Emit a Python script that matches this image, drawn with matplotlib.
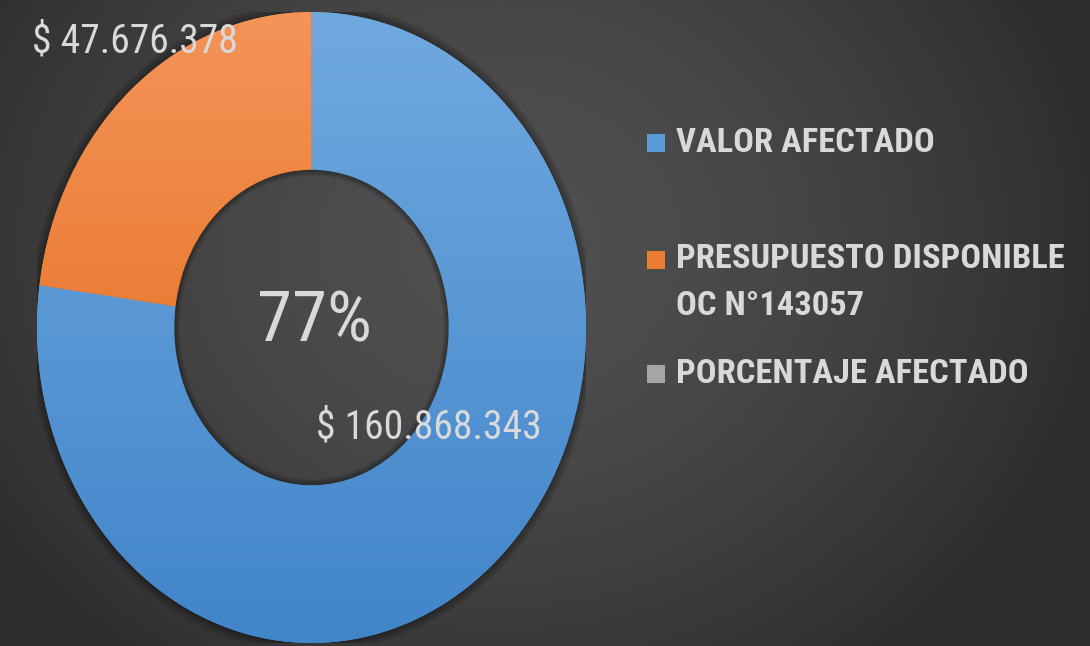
import numpy as np
import matplotlib
matplotlib.use('Agg')
import matplotlib.pyplot as plt
from matplotlib import font_manager
from matplotlib.patches import Wedge, Rectangle
from matplotlib.colors import LinearSegmentedColormap

# datos del grafico
categorias = ['VALOR AFECTADO', 'PRESUPUESTO DISPONIBLE\nOC N°143057', 'PORCENTAJE AFECTADO']
valores = [160868343, 47676378]
porcentaje = 77
colores = ['#5b9bd5', '#ed7d31', '#a5a5a5']
# gradiente (arriba, abajo) de cada porcion
gradientes = [('#70a9df', '#4185ca'), ('#f49459', '#e0640f')]

# fuente: la mas angosta disponible (Calibri no esta)
nombres = {f.name for f in font_manager.fontManager.ttflist}
fuente = 'Lato'
for cand in ['Roboto Condensed', 'Liberation Sans Narrow', 'Open Sans Condensed', 'Lato']:
    if cand in nombres:
        fuente = cand
        break
plt.rcParams['font.family'] = [fuente, 'DejaVu Sans']

fig = plt.figure(figsize=(10.9, 6.46), dpi=100)

# fondo gris oscuro con degradado radial
H, W = 646, 1090
yy, xx = np.mgrid[0:H, 0:W]
d = np.sqrt(((xx - 500) / 600.0) ** 2 + ((yy - 400) / 520.0) ** 2)
v = (80 - 34 * np.clip(d, 0, 1) ** 1.6) / 255.0
fondo = np.dstack([v, v, v])
fig.figimage(fondo[::-1], 0, 0, zorder=-10)

ax = fig.add_axes([37 / W, 3 / H, 549 / W, 631 / H])
ax.patch.set_visible(False)

# sombra exterior suave (solo anillo por fuera)
for k in range(6):
    r = 1.0 + 0.005 * (k + 1)
    ax.add_patch(Wedge((0, 0), r, 0, 360, width=r - 0.98, color='black', alpha=0.06, lw=0, zorder=0))

wedges, _ = ax.pie(valores, colors=colores[:2], startangle=90, counterclock=False,
                   radius=1, wedgeprops=dict(width=0.5, linewidth=0))
ax.set_aspect('auto')

grad = np.linspace(1, 0, 256).reshape(-1, 1)
for w, (top, bot) in zip(wedges, gradientes):
    cmap = LinearSegmentedColormap.from_list('g', [bot, top])
    im = ax.imshow(grad, extent=(-1, 1, -1, 1), cmap=cmap, aspect='auto',
                   origin='upper', zorder=2)
    im.set_clip_path(w)

# sombra interior del hueco
for k in range(5):
    ax.add_patch(Wedge((0, 0), 0.5, 0, 360, width=0.004 * (k + 1),
                       color='black', alpha=0.07, lw=0, zorder=3))

ax.set_xlim(-1, 1)
ax.set_ylim(-1, 1)
ax.axis('off')

def fmt(x):
    return '$ ' + f'{x:,}'.replace(',', '.')

texto = '#d9d9d9'
ax.text(-1.018, 0.908, fmt(valores[1]), color=texto, fontsize=28.5, ha='left', va='center', zorder=5)
ax.text(0.016, -0.315, fmt(valores[0]), color=texto, fontsize=28.5, ha='left', va='center', zorder=5)
ax.text(0.009, 0.017, f'{porcentaje}%', color=texto, fontsize=51, ha='center', va='center', zorder=5)

# leyenda
ley_y = [143, 283, 374]
for lab, col, y in zip(categorias, colores, ley_y):
    fig.patches.append(Rectangle((647 / W, 1 - (y + 9) / H), 18 / W, 18 / H,
                                 transform=fig.transFigure, color=col, lw=0))
    fig.text(676 / W, 1 - y / H, lab, color=texto, fontsize=24.8, fontweight='bold',
             ha='left', va='center', linespacing=1.6)

# el cuadrado naranja va junto a la primera linea
fig.patches[1].set_y(1 - (260 + 9) / H)

fig.savefig('out.png', dpi=100)
